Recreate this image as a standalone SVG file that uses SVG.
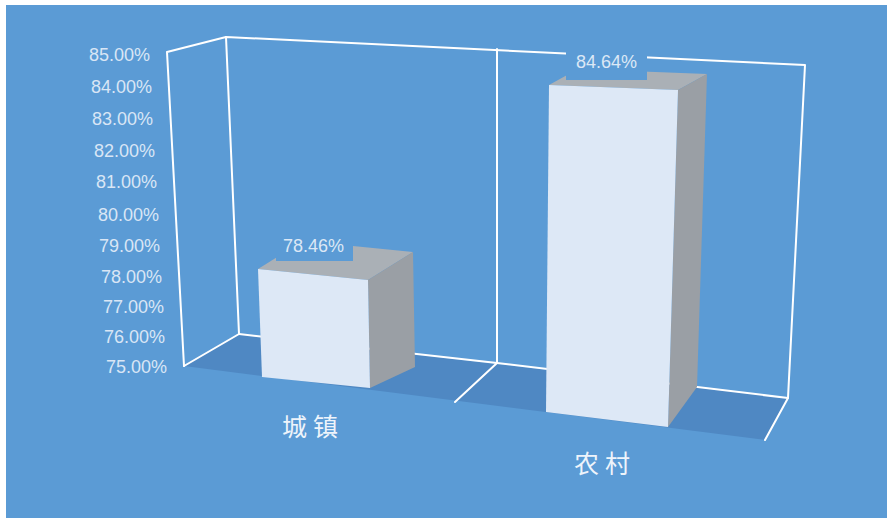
<svg xmlns="http://www.w3.org/2000/svg" width="888" height="518" viewBox="0 0 888 518">
  <style>
    .grid { stroke: #FFFFFF; stroke-width: 2; fill: none; stroke-linejoin: round; stroke-linecap: round; }
    .axis { font-family: "Liberation Sans", Arial, sans-serif; font-size: 18px; fill: #D9E6F5; text-anchor: end; }
    .val { font-family: "Liberation Sans", Arial, sans-serif; font-size: 18px; fill: #DCE8F6; }
    .cat { font-family: "Noto Sans CJK SC", sans-serif; font-size: 25px; fill: #EEF4FB; letter-spacing: 6px; }
    .front { fill: #DDE8F6; }
    .side { fill: #9A9FA5; }
    .top { fill: #AAB0B6; }
    .bg { fill: #5B9BD5; }
  </style>
  <rect x="0" y="0" width="888" height="518" fill="#FFFFFF"/>
  <rect class="bg" x="6" y="5" width="881" height="513"/>

  <g id="floor">
    <polygon points="184,366 239,334 788,398 765,440" fill="#4F88C3"/>
  </g>

  <g id="connectors">
    <polyline class="grid" points="184,366 167,52 226,37 805,65 788,398 765,440"/>
    <line class="grid" x1="226" y1="37" x2="239" y2="334"/>
    <line class="grid" x1="184" y1="366" x2="239" y2="334"/>
    <polyline class="grid" points="239,334 497,363 788,398"/>
    <line class="grid" x1="497" y1="49" x2="497" y2="363"/>
    <line class="grid" x1="497" y1="363" x2="455" y2="402"/>
  </g>

  <g id="y-axis">
    <text class="axis" x="150" y="61">85.00%</text>
    <text class="axis" x="152" y="93">84.00%</text>
    <text class="axis" x="153" y="125">83.00%</text>
    <text class="axis" x="155" y="157">82.00%</text>
    <text class="axis" x="157" y="188">81.00%</text>
    <text class="axis" x="159" y="221">80.00%</text>
    <text class="axis" x="160" y="252">79.00%</text>
    <text class="axis" x="162" y="283">78.00%</text>
    <text class="axis" x="164" y="313">77.00%</text>
    <text class="axis" x="165" y="343">76.00%</text>
    <text class="axis" x="167" y="373">75.00%</text>
  </g>

  <g id="bar-chengzhen">
    <polygon class="top" points="258,269 303,241 413,252 368,280"/>
    <polygon class="side" points="368,280 413,252 415,367 370,388"/>
    <polygon class="front" points="258,269 368,280 370,388 262,377"/>
    <rect class="bg" x="276" y="231" width="77" height="30"/>
    <text class="val" x="283" y="252">78.46%</text>
  </g>

  <g id="bar-nongcun">
    <polygon class="top" points="549,85 578,69 707,74 678,90"/>
    <polygon class="side" points="678,90 707,74 697,387 668,427"/>
    <polygon class="front" points="549,85 678,90 668,427 546,412"/>
    <rect class="bg" x="566" y="51" width="81" height="29"/>
    <text class="val" x="576" y="68">84.64%</text>
  </g>

  <g id="categories">
    <text class="cat" x="282" y="436">城镇</text>
    <text class="cat" x="574" y="473">农村</text>
  </g>
</svg>
